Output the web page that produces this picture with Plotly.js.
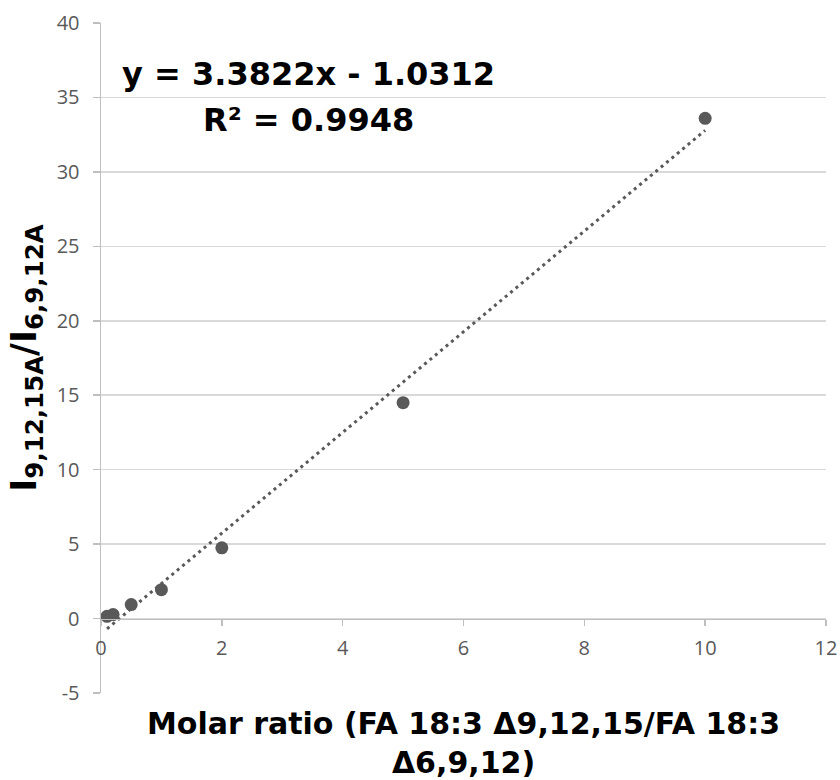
<!DOCTYPE html>
<html>
<head>
<meta charset="utf-8">
<script src="https://cdn.plot.ly/plotly-3.0.1.min.js"></script>
<style>
  html, body { margin: 0; padding: 0; background: #ffffff; }
  #chart { width: 840px; height: 780px; }
</style>
</head>
<body>
<div id="chart"></div>
<script>
// Calibration points: molar ratio vs. intensity ratio
const molarRatio = [0.1, 0.2, 0.5, 1, 2, 5, 10];
const intensityRatio = [0.15, 0.27, 0.94, 1.94, 4.75, 14.5, 33.6];

// Linear fit coefficients as reported on the chart
const fitSlope = 3.3822;
const fitIntercept = -1.0312;
const fitR2 = 0.9948;

// Axis ticks
const xTickVals = [0, 2, 4, 6, 8, 10, 12];
const yTickVals = [-5, 0, 5, 10, 15, 20, 25, 30, 35, 40];

const xRange = [0, 12];
const yRange = [-5, 40];

const axisGray = '#bfbfbf';
const gridGray = '#d9d9d9';
const tickText = '#595959';
const markGray = '#595959';

// Fitted line spans the range of the measured ratios
const xMin = Math.min(...molarRatio);
const xMax = Math.max(...molarRatio);
const fitX = [xMin, xMax];
const fitY = fitX.map(v => fitSlope * v + fitIntercept);

const traces = [
  {
    x: fitX, y: fitY, type: 'scatter', mode: 'lines',
    line: { color: markGray, width: 3, dash: '3px,4px' },
    hoverinfo: 'skip', showlegend: false
  },
  {
    x: molarRatio, y: intensityRatio, type: 'scatter', mode: 'markers',
    marker: { color: markGray, size: 13 },
    showlegend: false
  }
];

const boldFont = 'DejaVu Sans, sans-serif';
const eqFont = { family: boldFont, size: 32, color: '#000000', weight: 700 };
const tickFont = { family: 'Open Sans, sans-serif', size: 20, color: tickText };

const layout = {
  width: 840, height: 780,
  paper_bgcolor: '#ffffff', plot_bgcolor: '#ffffff',
  margin: { l: 101, r: 14, t: 23, b: 87 },
  showlegend: false,
  xaxis: {
    range: xRange,
    tickvals: xTickVals,
    ticktext: xTickVals.map(String),
    showgrid: false, zeroline: false,
    showline: true, linecolor: axisGray, linewidth: 1.5,
    ticks: 'outside', ticklen: 6, tickcolor: axisGray, tickwidth: 1.5,
    ticklabelstandoff: 5,
    tickfont: tickFont,
    anchor: 'free',
    position: (0 - yRange[0]) / (yRange[1] - yRange[0]),
    automargin: false,
    title: {
      text: '<b>Molar ratio (FA 18:3 Δ9,12,15/FA 18:3<br>Δ6,9,12)</b>',
      font: { family: boldFont, size: 30, color: '#000000' },
      standoff: 60
    }
  },
  yaxis: {
    range: yRange,
    tickvals: yTickVals,
    ticktext: yTickVals.map(String),
    showgrid: true, gridcolor: gridGray, gridwidth: 1.5,
    zeroline: false,
    showline: true, linecolor: axisGray, linewidth: 1.5,
    ticks: 'outside', ticklen: 7, tickcolor: axisGray, tickwidth: 1.5,
    ticklabelstandoff: 9,
    tickfont: tickFont,
    automargin: false,
    title: {
      text: '<b>I<sub>9,12,15A</sub>/I<sub>6,9,12A</sub></b>',
      font: { family: boldFont, size: 35, color: '#000000' },
      standoff: 9
    }
  },
  annotations: [
    {
      x: 3.44, y: 36.6, xref: 'x', yref: 'y',
      text: 'y = ' + fitSlope.toFixed(4) + 'x - ' + Math.abs(fitIntercept).toFixed(4),
      showarrow: false, xanchor: 'center', yanchor: 'middle',
      font: eqFont
    },
    {
      x: 3.44, y: 33.5, xref: 'x', yref: 'y',
      text: 'R² = ' + fitR2.toFixed(4),
      showarrow: false, xanchor: 'center', yanchor: 'middle',
      font: eqFont
    }
  ]
};

Plotly.newPlot('chart', traces, layout, { displayModeBar: false, staticPlot: true });
</script>
</body>
</html>
